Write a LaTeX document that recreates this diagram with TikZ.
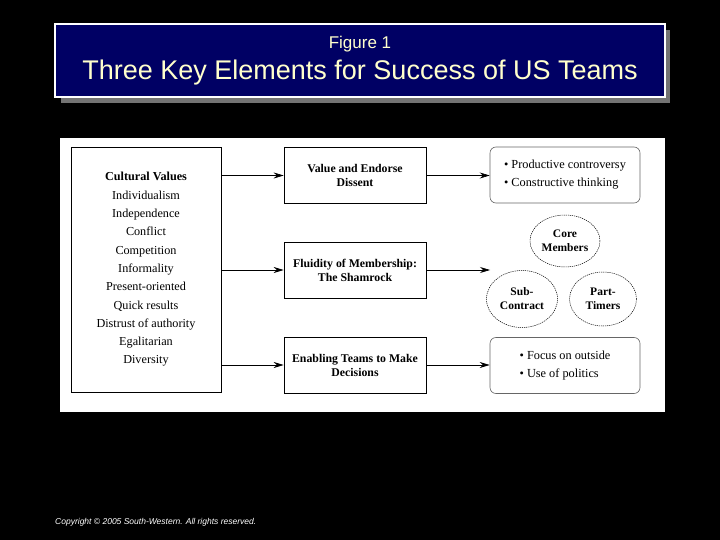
\documentclass[tikz,border=0pt]{standalone}
\usepackage{fontspec}
\setmainfont{Liberation Serif}
\newfontfamily\bannerfont{Liberation Sans}
\usetikzlibrary{arrows.meta, positioning, shapes.geometric}
\definecolor{navy}{RGB}{0,0,100}
\definecolor{cream}{RGB}{255,255,204}

\begin{document}
\begin{tikzpicture}[x=1pt, y=-1pt,
  box/.style={draw, line width=0.7pt, minimum width=142pt, minimum height=56pt, inner sep=0pt,
              align=center, font=\fontsize{11.8}{14}\selectfont\bfseries},
  outbox/.style={draw=black!60, line width=0.6pt, rounded corners=6pt, minimum width=150pt,
                 minimum height=56pt, inner sep=0pt, align=left, font=\fontsize{12.3}{18}\selectfont},
  memb/.style={draw, ellipse, dash pattern=on 1.2pt off 0.9pt, line width=0.5pt, inner sep=0pt,
               align=center, font=\fontsize{11.5}{14}\selectfont\bfseries},
  arr/.style={-{Stealth[length=10pt, width=6pt]}, line width=0.7pt}
]
  \fill[black] (0,0) rectangle (720,540);
  \useasboundingbox (0,0) rectangle (720,540);

  % banner
  \fill[black!55] (61,30) rectangle (670,103);
  \node[draw=white, line width=1.5pt, fill=navy, minimum width=610pt, minimum height=73pt,
        inner sep=0pt] (banner) at (360,60.5) {};
  \node[text=cream, font=\bannerfont\fontsize{17}{20}\selectfont] (figno) at (360,44) {Figure 1};
  \node[text=cream, font=\bannerfont\fontsize{27}{32}\selectfont] (heading) at (360,73)
    {Three Key Elements for Success of US Teams};

  % panel
  \fill[white] (60,138) rectangle (665,412);

  \node[draw, line width=0.7pt, minimum width=150pt, minimum height=245pt, align=center,
        font=\fontsize{12.2}{18.3}\selectfont] (values) at (146,269.5)
    {\textbf{Cultural Values}\\Individualism\\Independence\\Conflict\\Competition\\Informality\\
     Present-oriented\\Quick results\\Distrust of authority\\Egalitarian\\Diversity};

  \node[box] (dissent)  at (355,175.5) {Value and Endorse\\Dissent};
  \node[box] (shamrock) at (355,270)   {Fluidity of Membership:\\The Shamrock};
  \node[box] (decide)   at (355,365)   {Enabling Teams to Make\\Decisions};

  \node[outbox] (debate) at (565,175)
    {\textbullet{} Productive controversy\\\textbullet{} Constructive thinking};
  \node[outbox] (politics) at (565,365.5)
    {\textbullet{} Focus on outside\\\textbullet{} Use of politics};

  \node[memb, minimum width=70pt, minimum height=52pt] (core) at (565,241) {Core\\Members};
  \node[memb, minimum width=71pt, minimum height=57pt] (sub)  at (522,299) {Sub-\\Contract};
  \node[memb, minimum width=67pt, minimum height=54pt] (part) at (603,299) {Part-\\Timers};
  \coordinate (members) at (490,270);

  \draw[arr] (values.east |- dissent.west) -- (dissent.west);
  \draw[arr] (values.east |- shamrock.west) -- (shamrock.west);
  \draw[arr] (values.east |- decide.west) -- (decide.west);
  \draw[arr] (dissent.east) -- (dissent.east -| debate.west);
  \draw[arr] (shamrock.east) -- (members);
  \draw[arr] (decide.east) -- (decide.east -| politics.west);

  \node[anchor=west, inner sep=0pt, text=white, font=\bannerfont\itshape\fontsize{8.5}{10}\selectfont]
    (copyright) at (55,522) {Copyright © 2005 South-Western. All rights reserved.};
\end{tikzpicture}
\end{document}
